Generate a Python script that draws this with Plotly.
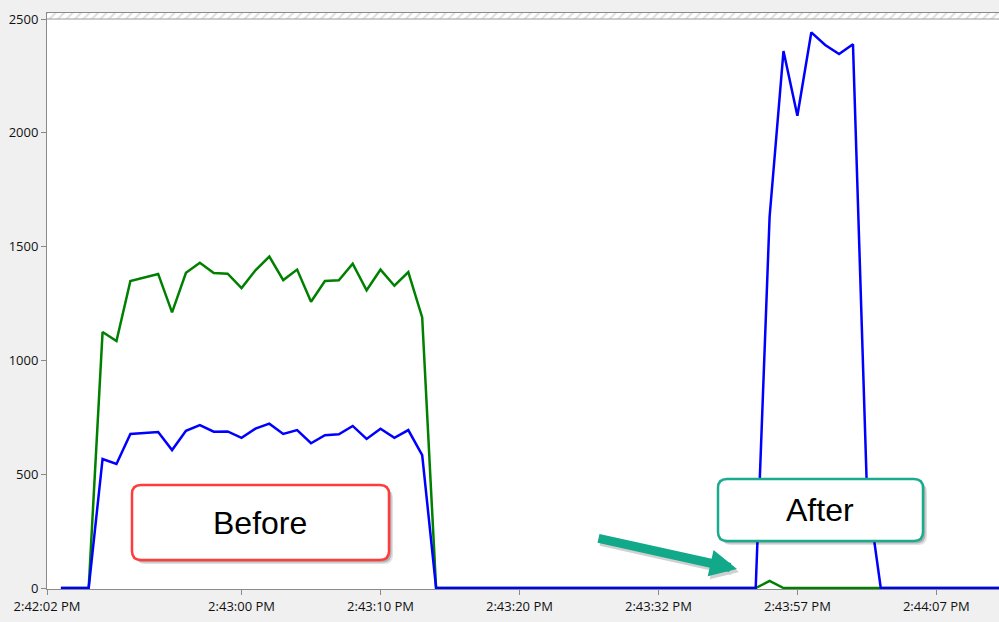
import plotly.graph_objects as go

# ---- data ----
sample_index = list(range(69))
green_before = [1125, 1085, 1349, 1365, 1380, 1211, 1385, 1429, 1384, 1381, 1318, 1396,
                1456, 1353, 1399, 1258, 1349, 1352, 1425, 1308, 1399, 1328, 1388, 1189]
blue_before = [567, 545, 677, 681, 685, 606, 691, 716, 687, 688, 660, 700,
               722, 677, 694, 636, 671, 675, 712, 655, 700, 660, 694, 584]
green_after = [31]
blue_after = [1630, 2359, 2075, 2441, 2386, 2346, 2389, 440]

green = [0, 0, 0] + green_before + [0] * 24 + green_after + [0] * 17
blue = [0, 0, 0] + blue_before + [0] * 24 + blue_after + [0] * 10

tick_pos = [-1, 13, 23, 33, 43, 53, 63]
tick_text = ["2:42:02 PM", "2:43:00 PM", "2:43:10 PM", "2:43:20 PM",
             "2:43:32 PM", "2:43:57 PM", "2:44:07 PM"]
y_ticks = [0, 500, 1000, 1500, 2000, 2500]

# ---- layout geometry ----
WIDTH, HEIGHT = 999, 622
L, T, B = 47, 13, 33
PW = WIDTH - L
PH = HEIGHT - T - B
X_RANGE = [-1, -1 + PW / 13.896]
Y_RANGE = [-4.39, 2526.4]


def px(xp):
    return (xp - L) / PW


def py(yp):
    return (HEIGHT - B - yp) / PH


def rrect(x0, y0, x1, y1, r):
    rx, ry = r / PW, r / PH
    a, b, c, d = px(x0), py(y0), px(x1), py(y1)  # b top, d bottom (paper)
    return (f"M{a+rx},{b} L{c-rx},{b} Q{c},{b} {c},{b-ry} "
            f"L{c},{d+ry} Q{c},{d} {c-rx},{d} L{a+rx},{d} Q{a},{d} {a},{d+ry} "
            f"L{a},{b-ry} Q{a},{b} {a+rx},{b} Z")


fig = go.Figure()

# hatched band above 2500
fig.add_trace(go.Scatter(
    x=[X_RANGE[0] - 1, X_RANGE[1] + 1, X_RANGE[1] + 1, X_RANGE[0] - 1],
    y=[2500, 2500, Y_RANGE[1] + 10, Y_RANGE[1] + 10],
    fill="toself", mode="lines", line=dict(width=0),
    fillcolor="white",
    fillpattern=dict(shape="/", fgcolor="#bdbdbd", bgcolor="white", size=6, solidity=0.35),
    hoverinfo="skip", showlegend=False))

fig.add_trace(go.Scatter(x=sample_index, y=green, mode="lines",
                         line=dict(color="#008000", width=2.5), showlegend=False))
fig.add_trace(go.Scatter(x=sample_index, y=blue, mode="lines",
                         line=dict(color="#0000ff", width=2.5), showlegend=False))

shapes = [
    dict(type="line", xref="paper", yref="y", x0=0, x1=1, y0=2500, y1=2500,
         line=dict(color="#9a9a9a", width=1)),
]

# Before box
for off, op in [(4, 0.12), (2.5, 0.2)]:
    shapes.append(dict(type="path", xref="paper", yref="paper",
                       path=rrect(132 + off, 485 + off, 389 + off, 560 + off, 9),
                       fillcolor=f"rgba(0,0,0,{op})", line=dict(width=0)))
shapes.append(dict(type="path", xref="paper", yref="paper",
                   path=rrect(132, 485, 389, 560, 9),
                   fillcolor="white", line=dict(color="#ff3b3b", width=2.5)))
# After box
for off, op in [(4, 0.12), (2.5, 0.2)]:
    shapes.append(dict(type="path", xref="paper", yref="paper",
                       path=rrect(718 + off, 479 + off, 923 + off, 541 + off, 9),
                       fillcolor=f"rgba(0,0,0,{op})", line=dict(width=0)))
shapes.append(dict(type="path", xref="paper", yref="paper",
                   path=rrect(718, 479, 923, 541, 9),
                   fillcolor="white", line=dict(color="#1aab8f", width=2.5)))

annotations = [
    dict(x=px(260), y=py(523), xref="paper", yref="paper", text="Before", showarrow=False,
         font=dict(family="Liberation Sans, Arial", size=32, color="black"),
         xanchor="center", yanchor="middle"),
    dict(x=px(820), y=py(510), xref="paper", yref="paper", text="After", showarrow=False,
         font=dict(family="Liberation Sans, Arial", size=32, color="black"),
         xanchor="center", yanchor="middle"),
    # arrow shadow
    dict(x=px(739), y=py(572), xref="paper", yref="paper", ax=-140, ay=-31, text="",
         showarrow=True, arrowhead=2, arrowsize=0.6, arrowwidth=9,
         arrowcolor="rgba(0,0,0,0.18)"),
    dict(x=px(737), y=py(569), xref="paper", yref="paper", ax=-140, ay=-31, text="",
         showarrow=True, arrowhead=2, arrowsize=0.6, arrowwidth=9,
         arrowcolor="#12a98b"),
]

fig.update_layout(
    width=WIDTH, height=HEIGHT,
    margin=dict(l=L, r=0, t=T, b=B, pad=0),
    paper_bgcolor="#f0f0f0", plot_bgcolor="white",
    font=dict(family="Open Sans, Noto Sans, sans-serif", size=13, color="#111111"),
    shapes=shapes, annotations=annotations, showlegend=False,
    xaxis=dict(range=X_RANGE, tickmode="array", tickvals=tick_pos, ticktext=tick_text,
               showgrid=False, zeroline=False, showline=True, linecolor="#8a8a8a",
               linewidth=1, mirror=True, ticks="outside", ticklen=5, tickcolor="#8a8a8a",
               automargin=False),
    yaxis=dict(range=Y_RANGE, tickmode="array", tickvals=y_ticks,
               showgrid=False, zeroline=False, showline=True, linecolor="#8a8a8a",
               linewidth=1, ticks="outside", ticklen=5, tickcolor="#8a8a8a",
               automargin=False),
)

fig.write_html("out.html", config={"displayModeBar": False},
               post_script="document.body.style.margin='0';document.body.style.overflow='hidden';")
